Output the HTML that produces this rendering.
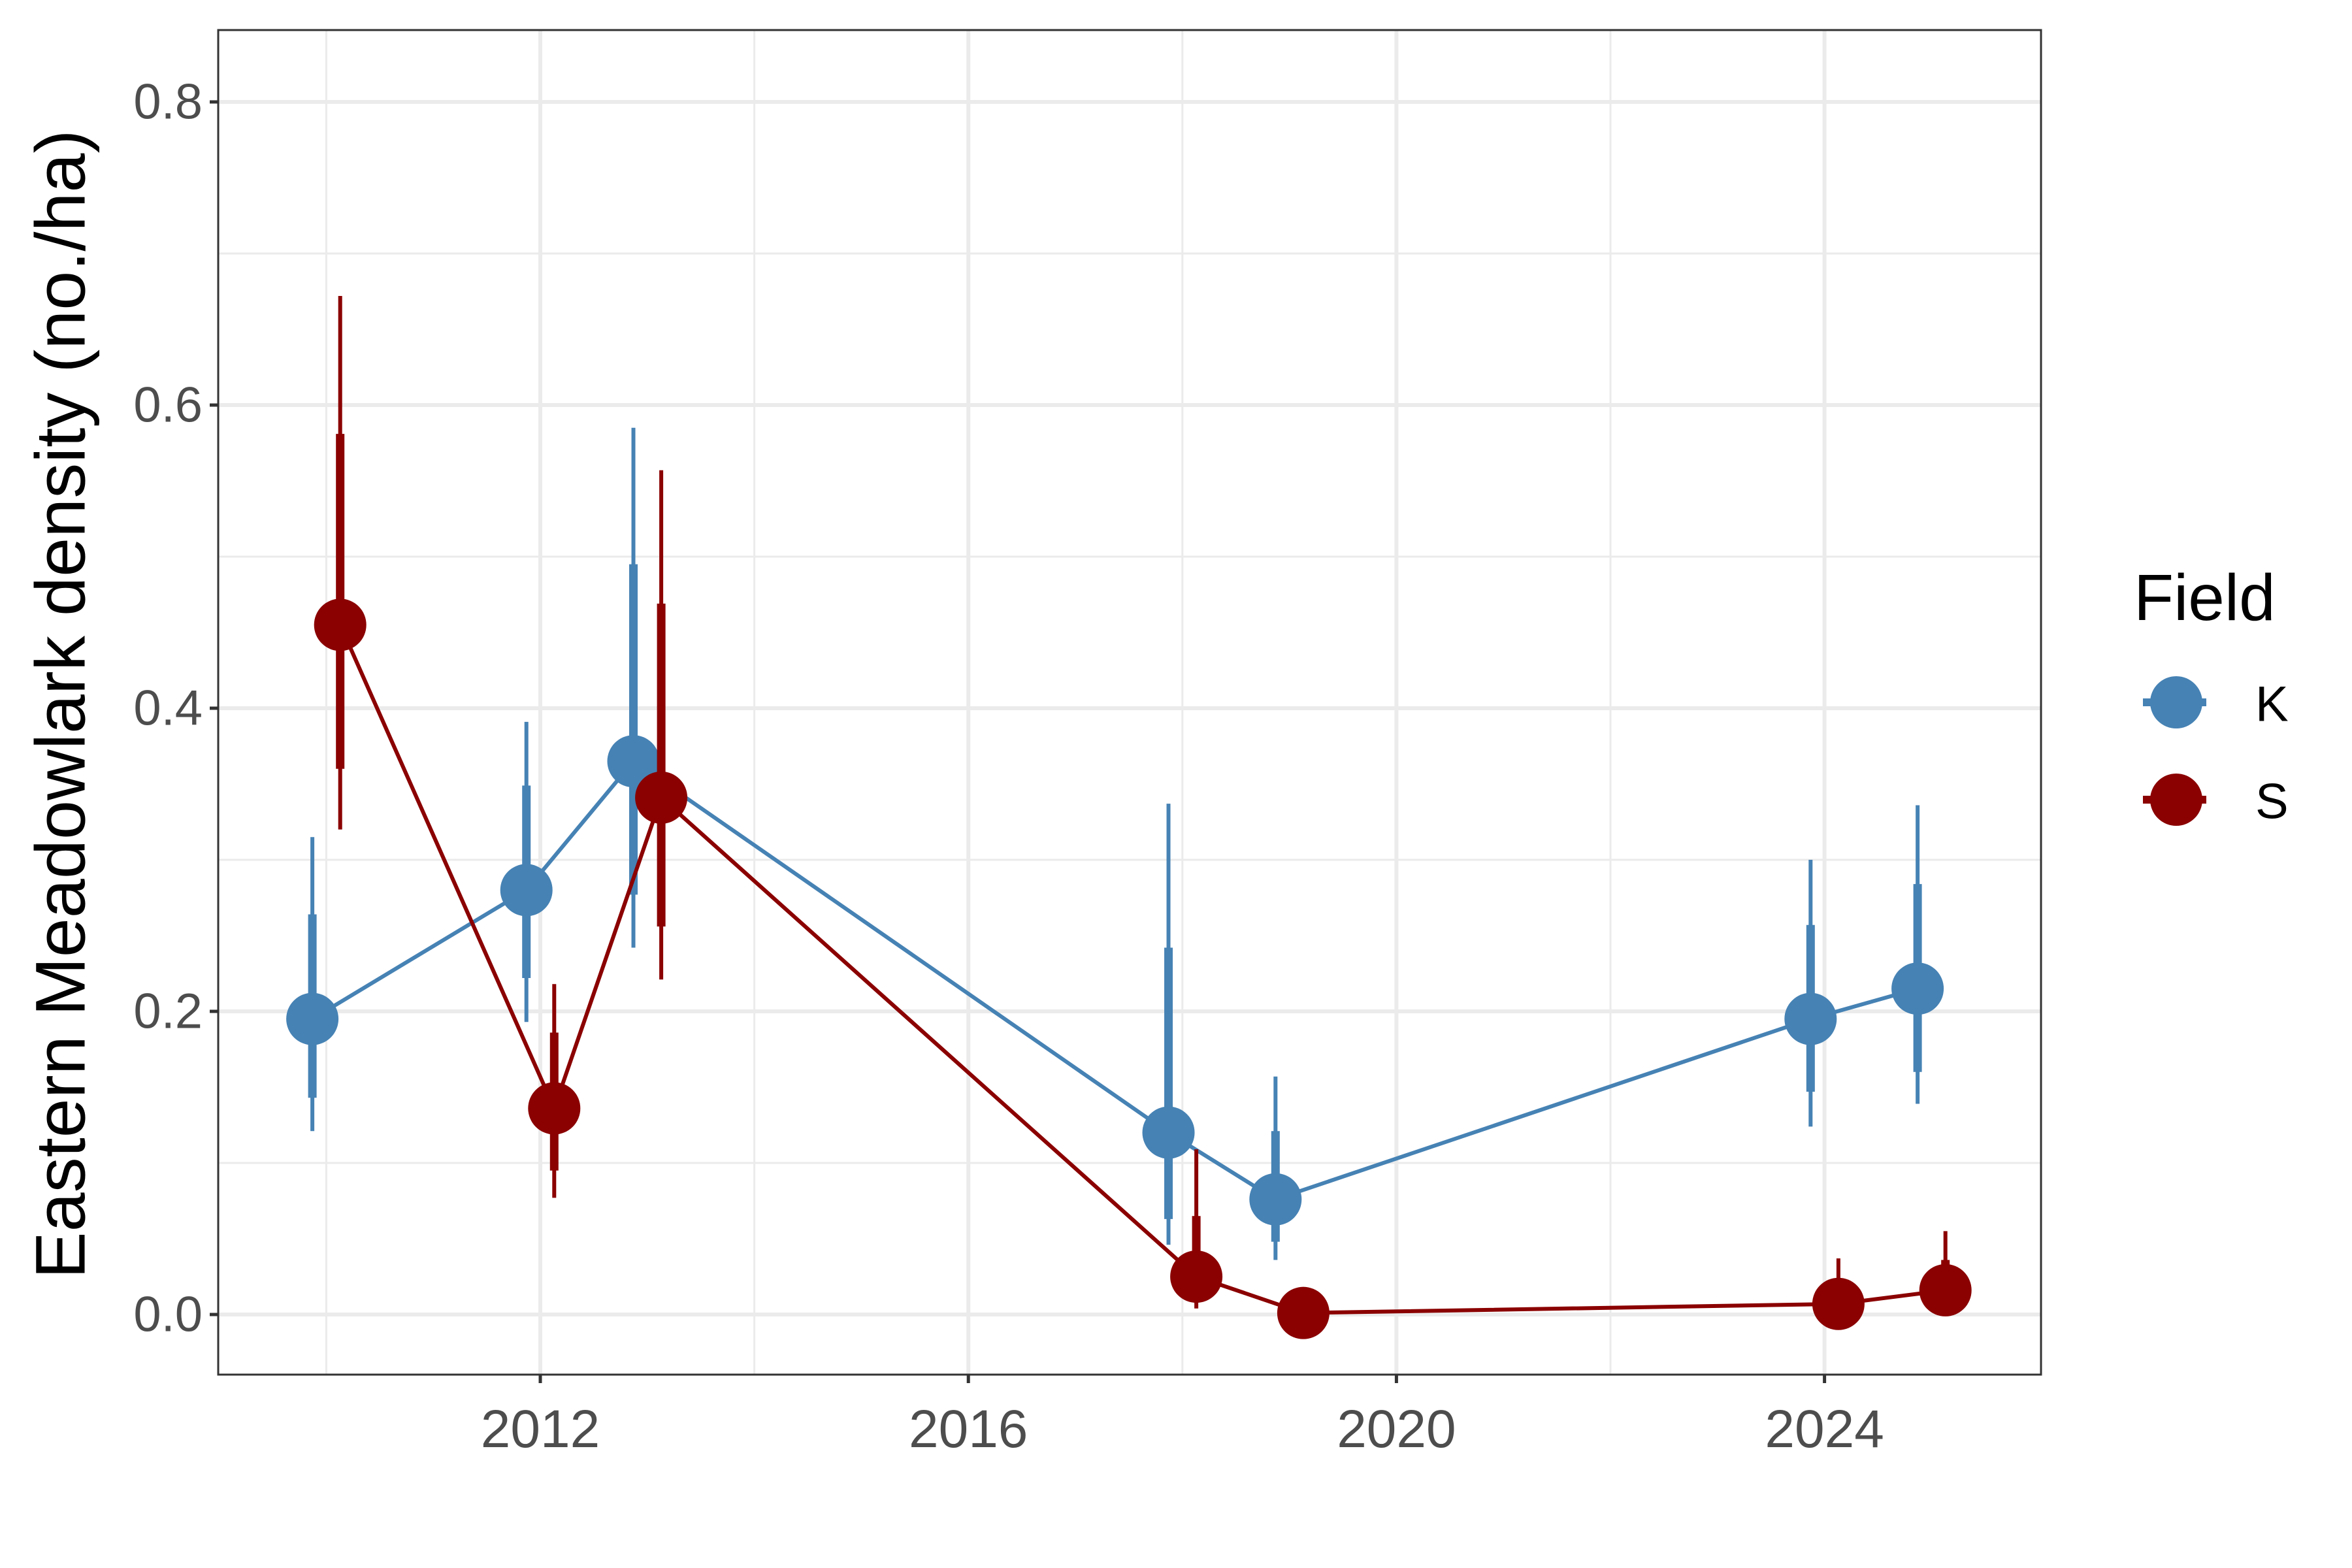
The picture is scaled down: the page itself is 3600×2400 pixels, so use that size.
<!DOCTYPE html>
<html><head><meta charset="utf-8"><style>
html,body{margin:0;padding:0;background:#fff}
svg{display:block;font-family:"Liberation Sans",Arial,sans-serif}
</style></head><body>
<svg id="chart" width="3600" height="2400" viewBox="0 0 3600 2400" xmlns="http://www.w3.org/2000/svg">
<rect x="0" y="0" width="3600" height="2400" fill="#fff"/>
<g id="grid"></g>
<g id="series"></g>
<rect x="334" y="46" width="2790" height="2058" fill="none" stroke="#333" stroke-width="3"/>
<g id="axes"></g>
<text x="92" y="1078" transform="rotate(-90 92 1078)" text-anchor="middle" dominant-baseline="central" font-size="108" fill="#000">Eastern Meadowlark density (no./ha)</text>
<g>
<text x="3266" y="949" font-size="100" fill="#000">Field</text>
<g>
<line x1="3280" y1="1075" x2="3377" y2="1075" stroke="#4682B4" stroke-width="12"/>
<circle cx="3331" cy="1075" r="40" fill="#4682B4"/>
<text x="3452" y="1078" font-size="76" dominant-baseline="central" fill="#000">K</text>
</g>
<g>
<line x1="3280" y1="1224" x2="3377" y2="1224" stroke="#8B0000" stroke-width="12"/>
<circle cx="3331" cy="1224" r="40" fill="#8B0000"/>
<text x="3452" y="1227" font-size="76" dominant-baseline="central" fill="#000">S</text>
</g>
</g>
</svg>
<script>
const years = [2010, 2012, 2013, 2018, 2019, 2024, 2025];
const kMean = [0.195, 0.28, 0.365, 0.12, 0.076, 0.195, 0.215];
const kLo50 = [0.143, 0.222, 0.277, 0.063, 0.048, 0.147, 0.16];
const kHi50 = [0.264, 0.349, 0.495, 0.242, 0.121, 0.257, 0.284];
const kLo95 = [0.121, 0.193, 0.242, 0.046, 0.036, 0.124, 0.139];
const kHi95 = [0.315, 0.391, 0.585, 0.337, 0.157, 0.3, 0.336];
const sMean = [0.455, 0.136, 0.341, 0.025, 0.001, 0.007, 0.016];
const sLo50 = [0.36, 0.095, 0.256, 0.028, 0.0, 0.006, 0.011];
const sHi50 = [0.581, 0.186, 0.469, 0.065, 0.003, 0.021, 0.036];
const sLo95 = [0.32, 0.077, 0.221, 0.004, 0.0, 0.0, 0.008];
const sHi95 = [0.672, 0.218, 0.557, 0.109, 0.005, 0.037, 0.055];
const xTicks = [2012, 2016, 2020, 2024];
const xMinor = [2010, 2014, 2018, 2022];
const yTicks = [0, 0.2, 0.4, 0.6, 0.8];
const yMinor = [0.1, 0.3, 0.5, 0.7];
const yTickLabels = ["0.0", "0.2", "0.4", "0.6", "0.8"];

const NS = "http://www.w3.org/2000/svg";
const X0 = 334, X1 = 3124, Y0 = 46, Y1 = 2104;
function xs(v){ return 827 + (v - 2012) * 163.8; }
function ys(v){ return 2012 - v * 2320; }
function mk(tag, attrs, parent){
  const e = document.createElementNS(NS, tag);
  for (const k in attrs) e.setAttribute(k, attrs[k]);
  parent.appendChild(e); return e;
}
const grid = document.getElementById('grid');
const axes = document.getElementById('axes');
const series = document.getElementById('series');
xMinor.forEach(v => { const l = mk('line', {x1: xs(v), x2: xs(v), y1: Y0, y2: Y1, stroke: '#ebebeb', 'stroke-width': 3}, grid);
  
   });
yMinor.forEach(v => { const l = mk('line', {x1: X0, x2: X1, y1: ys(v), y2: ys(v), stroke: '#ebebeb', 'stroke-width': 3}, grid);
  
   });
xTicks.forEach(v => {
  const l = mk('line', {x1: xs(v), x2: xs(v), y1: Y0, y2: Y1, stroke: '#ebebeb', 'stroke-width': 6}, grid);
  
  
  const t = mk('line', {x1: xs(v), x2: xs(v), y1: Y1, y2: Y1 + 13, stroke: '#333', 'stroke-width': 5}, axes);
  
  
  const tx = mk('text', {x: xs(v), y: 2215, 'text-anchor': 'middle', 'font-size': 82, fill: '#4d4d4d'}, axes);
  tx.textContent = v;
  
  
});
yTicks.forEach((v, i) => {
  const l = mk('line', {x1: X0, x2: X1, y1: ys(v), y2: ys(v), stroke: '#ebebeb', 'stroke-width': 6}, grid);
  
  
  const t = mk('line', {x1: X0 - 13, x2: X0, y1: ys(v), y2: ys(v), stroke: '#333', 'stroke-width': 5}, axes);
  
  
  const tx = mk('text', {x: X0 - 24, y: ys(v), 'text-anchor': 'end', 'dominant-baseline': 'central', 'font-size': 76, fill: '#4d4d4d'}, axes);
  tx.textContent = yTickLabels[i];
  
  
});
function drawSeries(name, color, off, mean, lo50, hi50, lo95, hi95){
  const g = mk('g', {}, series);
  
  
  const pts = years.map((y, i) => xs(y + off) + ',' + ys(mean[i])).join(' ');
  const pl = mk('polyline', {points: pts, fill: 'none', stroke: color, 'stroke-width': 6}, g);
  
  
  years.forEach((y, i) => {
    const x = xs(y + off);
    const a = mk('line', {x1: x, x2: x, y1: ys(lo95[i]), y2: ys(hi95[i]), stroke: color, 'stroke-width': 6}, g);
    
    
    const b = mk('line', {x1: x, x2: x, y1: ys(lo50[i]), y2: ys(hi50[i]), stroke: color, 'stroke-width': 13}, g);
    
    
    const c = mk('circle', {cx: x, cy: ys(mean[i]), r: 40, fill: color}, g);
    
    
  });
}
drawSeries('k', '#4682B4', -0.13, kMean, kLo50, kHi50, kLo95, kHi95);
drawSeries('s', '#8B0000', 0.13, sMean, sLo50, sHi50, sLo95, sHi95);
</script>
</body></html>
